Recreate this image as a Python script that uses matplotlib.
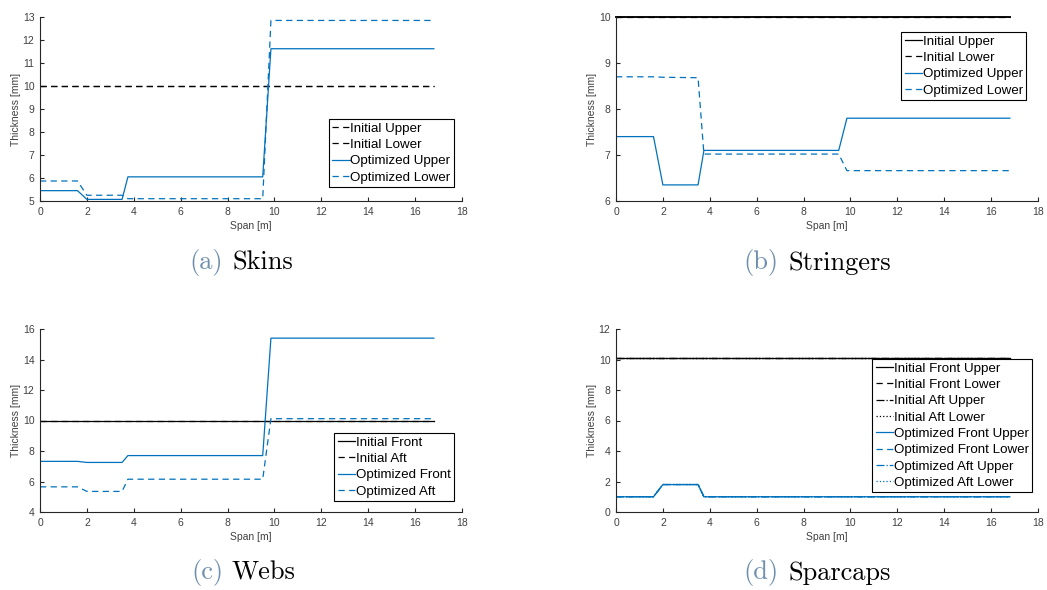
import numpy as np
import matplotlib
matplotlib.use("Agg")
import matplotlib.pyplot as plt

plt.rcParams['font.family'] = ['Liberation Sans', 'DejaVu Sans']

# spanwise stations [m]
span = [0, 1.6, 2.0, 3.5, 3.75, 9.5, 9.85, 16.8]

# (a) skins [mm]
skins_init_upper = [10, 10, 10, 10, 10, 10, 10, 10]
skins_init_lower = [10, 10, 10, 10, 10, 10, 10, 10]
skins_opt_upper = [5.45, 5.45, 5.07, 5.07, 6.05, 6.05, 11.62, 11.62]
skins_opt_lower = [5.87, 5.87, 5.25, 5.25, 5.10, 5.10, 12.85, 12.85]

# (b) stringers [mm]
str_init_upper = [10, 10, 10, 10, 10, 10, 10, 10]
str_init_lower = [10, 10, 10, 10, 10, 10, 10, 10]
str_opt_upper = [7.40, 7.40, 6.35, 6.35, 7.10, 7.10, 7.80, 7.80]
str_opt_lower = [8.70, 8.70, 8.69, 8.68, 7.02, 7.02, 6.66, 6.66]

# (c) webs [mm]
webs_init_front = [10, 10, 10, 10, 10, 10, 10, 10]
webs_init_aft = [10, 10, 10, 10, 10, 10, 10, 10]
webs_opt_front = [7.32, 7.32, 7.25, 7.25, 7.70, 7.70, 15.40, 15.40]
webs_opt_aft = [5.65, 5.65, 5.35, 5.35, 6.15, 6.15, 10.12, 10.12]

# (d) sparcaps [mm]
caps_init = [10.08, 10.08, 10.08, 10.08, 10.08, 10.08, 10.08, 10.08]
caps_opt = [1.0, 1.0, 1.8, 1.8, 1.0, 1.0, 1.0, 1.0]

BLUE = '#0072BD'
DASH = (0, (5, 3.5))
LW = 0.9

fig = plt.figure(figsize=(10.47, 5.9), dpi=100)
W, H = 1047, 590


def make_axes(l, r, t, b):
    return fig.add_axes([l / W, 1 - b / H, (r - l) / W, (b - t) / H])


def style(ax, ylim, yticks):
    ax.set_xlim(0, 18)
    ax.set_ylim(*ylim)
    ax.set_xticks(np.arange(0, 19, 2))
    ax.set_yticks(yticks)
    ax.spines['top'].set_visible(False)
    ax.spines['right'].set_visible(False)
    for s in ('left', 'bottom'):
        ax.spines[s].set_color('#262626')
        ax.spines[s].set_linewidth(0.8)
    ax.tick_params(direction='in', length=3, width=0.8, color='#262626',
                   labelsize=7.5, labelcolor='#404040', pad=4)
    ax.set_xlabel('Span [m]', fontsize=7.5, color='#404040', labelpad=3)
    ax.set_ylabel('Thickness [mm]', fontsize=7.5, color='#404040', labelpad=1)


def legend(ax, right, top):
    lg = ax.legend(loc='upper right', bbox_to_anchor=(right, top), borderaxespad=0,
                   fontsize=9.6, handlelength=1.3, handletextpad=0.05,
                   labelspacing=0.3, borderpad=0.25, fancybox=False,
                   framealpha=1, edgecolor='black')
    lg.get_frame().set_linewidth(0.8)
    return lg


def caption(gap_x, y, tag, name):
    fig.text((gap_x - 4) / W, 1 - y / H, tag, ha='right', va='center',
             fontsize=19, family='cmr10', color='#6f8fae')
    fig.text((gap_x + 5) / W, 1 - y / H, name, ha='left', va='center',
             fontsize=19, family='cmr10', color='black')


# (a) Skins
ax = make_axes(40, 462, 17, 201)
ax.plot(span, skins_init_upper, color='black', ls=DASH, lw=LW, label='Initial Upper')
ax.plot(span, skins_init_lower, color='black', ls=DASH, lw=LW, label='Initial Lower')
ax.plot(span, skins_opt_upper, color=BLUE, ls='-', lw=LW, label='Optimized Upper')
ax.plot(span, skins_opt_lower, color=BLUE, ls=DASH, lw=LW, label='Optimized Lower')
style(ax, (5, 13), np.arange(5, 14, 1))
legend(ax, 0.981, 0.446)

# (b) Stringers
ax = make_axes(616, 1038, 17, 201)
ax.plot(span, str_init_upper, color='black', ls='-', lw=LW * 1.5, label='Initial Upper', clip_on=False)
ax.plot(span, str_init_lower, color='black', ls=DASH, lw=LW, label='Initial Lower', clip_on=False)
ax.plot(span, str_opt_upper, color=BLUE, ls='-', lw=LW, label='Optimized Upper')
ax.plot(span, str_opt_lower, color=BLUE, ls=DASH, lw=LW, label='Optimized Lower')
style(ax, (6, 10), np.arange(6, 11, 1))
lg = legend(ax, 0.972, 0.918)
lg.legend_handles[0].set_linewidth(LW)

# (c) Webs
ax = make_axes(40, 462, 329, 512)
ax.plot(span, webs_init_front, color='black', ls='-', lw=LW, label='Initial Front')
ax.plot(span, webs_init_aft, color='black', ls=DASH, lw=LW, label='Initial Aft')
ax.plot(span, webs_opt_front, color=BLUE, ls='-', lw=LW, label='Optimized Front')
ax.plot(span, webs_opt_aft, color=BLUE, ls=DASH, lw=LW, label='Optimized Aft')
style(ax, (4, 16), np.arange(4, 17, 2))
legend(ax, 0.981, 0.432)

# (d) Sparcaps
ax = make_axes(616, 1038, 329, 512)
styles = ['-', DASH, '-.', ':']
names = ['Front Upper', 'Front Lower', 'Aft Upper', 'Aft Lower']
for ls, nm in zip(styles, names):
    ax.plot(span, caps_init, color='black', ls=ls, lw=LW, label='Initial ' + nm)
for ls, nm in zip(styles, names):
    ax.plot(span, caps_opt, color=BLUE, ls=ls, lw=LW, label='Optimized ' + nm)
style(ax, (0, 12), np.arange(0, 13, 2))
legend(ax, 0.986, 0.836)

caption(227, 263, '(a)', 'Skins')
caption(783, 263, '(b)', 'Stringers')
caption(227, 573, '(c)', 'Webs')
caption(783, 573, '(d)', 'Sparcaps')

fig.savefig('out.png', dpi=100)
